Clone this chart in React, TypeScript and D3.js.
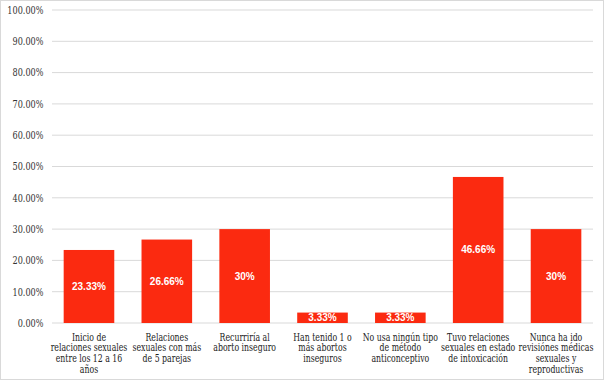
import React from "react";
import * as d3 from "d3";

const categories: string[][] = [
  ["Inicio de", "relaciones sexuales", "entre los  12 a 16", "años"],
  ["Relaciones", "sexuales con más", "de 5 parejas"],
  ["Recurriría al", "aborto inseguro"],
  ["Han tenido 1 o", "más abortos", "inseguros"],
  ["No usa ningún tipo", "de método", "anticonceptivo"],
  ["Tuvo relaciones", "sexuales en estado", "de intoxicación"],
  ["Nunca ha ido", "revisiónes médicas", "sexuales y", "reproductivas"],
];
const values = [23.33, 26.66, 30, 3.33, 3.33, 46.66, 30];
const valueLabels = ["23.33%", "26.66%", "30%", "3.33%", "3.33%", "46.66%", "30%"];
const ticks = [0, 10, 20, 30, 40, 50, 60, 70, 80, 90, 100];

const SERIF = "DejaVu Serif";
const SANS = "Liberation Sans";
const SX = 0.72;

export default function App() {
  const W = 605, H = 381;
  const left = 52, right = 593, top = 10, bottom = 323;
  const x = d3.scaleBand<number>().domain(d3.range(values.length)).range([left, right]).paddingInner(0.35).paddingOuter(0.15);
  const y = d3.scaleLinear().domain([0, 100]).range([bottom, top]);
  return (
    <svg width={W} height={H} style={{ position: "absolute", left: 0, top: 0 }}>
      <rect x={0.5} y={0.5} width={W - 2} height={H - 2} fill="#fff" stroke="#d9d9d9" />
      {ticks.map((t) => (
        <g key={t}>
          <line x1={left} x2={right} y1={y(t)} y2={y(t)} stroke="#d9d9d9" strokeWidth={1} />
          <g transform={`translate(43.5,${y(t)}) scale(0.74,1)`}>
            <text dy="0.35em" textAnchor="end" fontFamily={SERIF} fontSize={11} fill="#333">
              {t.toFixed(2)}%
            </text>
          </g>
        </g>
      ))}
      {values.map((v, i) => (
        <g key={i}>
          <rect x={x(i)} y={y(v)} width={x.bandwidth()} height={y(0) - y(v)} fill="#fb2a10" />
          <text x={x(i)! + x.bandwidth() / 2} y={(y(v) + y(0)) / 2} dy="0.35em" textAnchor="middle" fontFamily={SANS} fontWeight="bold" fontSize={10} fill="#fff">
            {valueLabels[i]}
          </text>
          <g transform={`translate(${x(i)! + x.bandwidth() / 2},340.5) scale(${SX},1)`}>
            <text textAnchor="middle" fontFamily={SERIF} fontSize={10.8} fill="#222">
              {categories[i].map((line, j) => (
                <tspan key={j} x={0} y={j * 10.7}>
                  {line}
                </tspan>
              ))}
            </text>
          </g>
        </g>
      ))}
    </svg>
  );
}
